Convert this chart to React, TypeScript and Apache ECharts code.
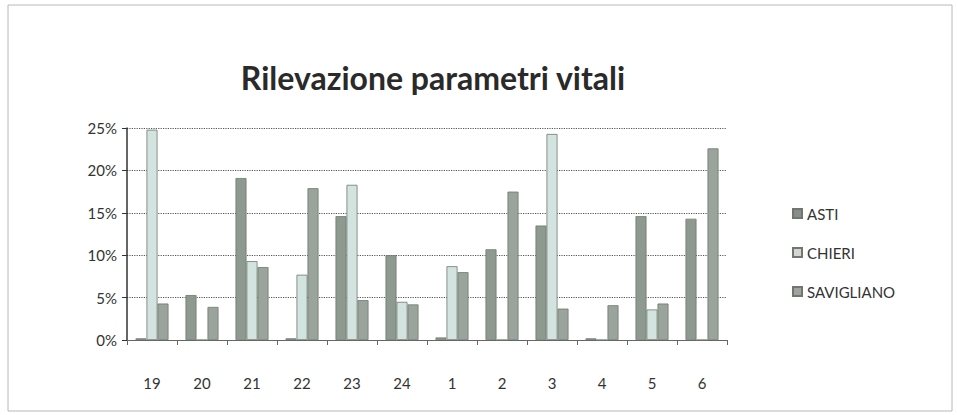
import React, { useEffect, useRef } from "react";
import * as echarts from "echarts";

const categories = ["19", "20", "21", "22", "23", "24", "1", "2", "3", "4", "5", "6"];
const asti = [0.2, 5.3, 19.1, 0.2, 14.6, 10.0, 0.3, 10.7, 13.5, 0.2, 14.6, 14.3];
const chieri = [24.8, 0, 9.3, 7.7, 18.3, 4.5, 8.7, 0, 24.3, 0, 3.6, 0];
const savigliano = [4.3, 3.9, 8.6, 17.9, 4.7, 4.2, 8.0, 17.5, 3.7, 4.1, 4.3, 22.6];
const seriesNames = ["ASTI", "CHIERI", "SAVIGLIANO"];
const yTicks = [0, 5, 10, 15, 20, 25];

const FONT = "Lato, 'Open Sans', sans-serif";

export default function App() {
  const ref = useRef<HTMLDivElement>(null);
  useEffect(() => {
    if (!ref.current) return;
    const chart = echarts.init(ref.current, null, { renderer: "svg" });
    const colors = ["#8e9a8f", "#d3e3df", "#9aa49c"];
    const data = [asti, chieri, savigliano];
    chart.setOption({
      animation: false,
      backgroundColor: "#ffffff",
      title: {
        text: "Rilevazione parametri vitali",
        left: 428,
        top: 56,
        textAlign: "center",
        textStyle: { fontFamily: FONT, fontSize: 32, fontWeight: "bold", color: "#2a2a2a" },
      },
      graphic: [
        {
          type: "rect",
          shape: { x: 8, y: 5, width: 944, height: 406 },
          style: { fill: "none", stroke: "#b8b8b8", lineWidth: 1 },
          silent: true,
        },
      ],
      legend: {
        orient: "vertical",
        left: 787,
        top: 201,
        itemGap: 24,
        itemWidth: 9,
        itemHeight: 9,
        icon: "rect",
        textStyle: { fontFamily: FONT, fontSize: 15, color: "#333" },
        data: seriesNames.map((n, i) => ({
          name: n,
          itemStyle: { color: ["#8c8c8c", "#d4d4d4", "#a2a2a2"][i] },
        })),
      },
      grid: { left: 127, right: 231, top: 128, bottom: 75, containLabel: false },
      xAxis: {
        type: "category",
        data: categories,
        boundaryGap: true,
        axisLine: { show: true, lineStyle: { color: "#666", width: 1 } },
        axisTick: { show: true, alignWithLabel: false, length: 5, lineStyle: { color: "#666" } },
        axisLabel: { fontFamily: FONT, fontSize: 15, color: "#333", margin: 35 },
      },
      yAxis: {
        type: "value",
        min: yTicks[0],
        max: yTicks[yTicks.length - 1],
        interval: 5,
        axisLine: { show: true, lineStyle: { color: "#333", width: 1.5 } },
        axisTick: { show: true, length: 5, lineStyle: { color: "#333" } },
        axisLabel: {
          fontFamily: FONT,
          fontSize: 15,
          color: "#333",
          margin: 10,
          formatter: (v: number) => `${v}%`,
        },
        splitLine: { show: true, lineStyle: { color: "#555", type: "dotted", width: 1.2 } },
      },
      series: seriesNames.map((n, i) => ({
        name: n,
        type: "bar",
        data: data[i],
        barWidth: 11,
        barGap: "0%",
        barCategoryGap: "30%",
        itemStyle: { color: colors[i], borderColor: "#6f786f", borderWidth: 0.8 },
      })),
    });
    return () => chart.dispose();
  }, []);
  return (
    <div
      ref={ref}
      style={{ position: "fixed", left: 0, top: 0, width: 958, height: 415 }}
    />
  );
}
